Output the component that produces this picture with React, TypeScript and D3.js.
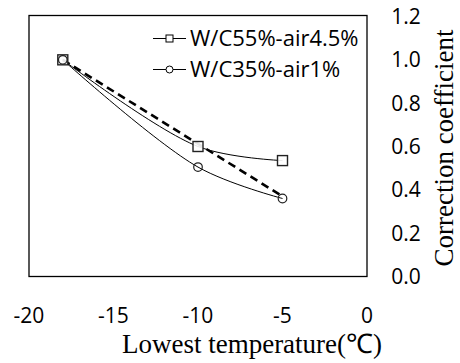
import React from "react";
import * as d3 from "d3";

const temps = [-18, -10, -5];
const seriesA = [1.0, 0.6, 0.535];
const seriesB = [1.0, 0.505, 0.36];
const trendX = [-18, -5];
const trendY = [1.0, 0.37];
const xTicks = [-20, -15, -10, -5, 0];
const yTicks = [0, 0.2, 0.4, 0.6, 0.8, 1.0, 1.2];
const legendLabels = ["W/C55%-air4.5%", "W/C35%-air1%"];

const W = 460, H = 363;
const L = 29, R = 367, T = 16.5, B = 276.5;

export default function App() {
  const x = d3.scaleLinear().domain([-20, 0]).range([L, R]);
  const y = d3.scaleLinear().domain([0, 1.2]).range([B, T]);
  const line = d3.line<[number, number]>()
    .x(d => x(d[0])).y(d => y(d[1]))
    .curve(d3.curveCatmullRom.alpha(0.5));
  const straight = d3.line<[number, number]>().x(d => x(d[0])).y(d => y(d[1]));
  const ptsA: [number, number][] = temps.map((t, i) => [t, seriesA[i]]);
  const ptsB: [number, number][] = temps.map((t, i) => [t, seriesB[i]]);
  const trend: [number, number][] = trendX.map((t, i) => [t, trendY[i]]);
  const sans = "'Open Sans', sans-serif";
  const serif = "'Liberation Serif', 'Times New Roman', serif";
  return (
    <svg width={W} height={H} style={{ position: "absolute", left: 0, top: 0 }}>
      <rect x={0} y={0} width={W} height={H} fill="#fff" />
      <rect x={L} y={T - 1} width={R - L} height={B - T + 1} fill="none" stroke="#000" strokeWidth={1.3} />
      <path d={straight(trend)!} fill="none" stroke="#000" strokeWidth={2.6} strokeDasharray="8,5" />
      <path d={line(ptsA)!} fill="none" stroke="#000" strokeWidth={1} />
      <path d={line(ptsB)!} fill="none" stroke="#000" strokeWidth={1} />
      {ptsA.map((p, i) => (
        <rect key={"a" + i} x={x(p[0]) - 5} y={y(p[1]) - 5} width={10} height={10} fill="#fff" fillOpacity={0.9} stroke="#222" strokeWidth={1.4} />
      ))}
      {ptsB.map((p, i) => (
        <circle key={"b" + i} cx={x(p[0])} cy={y(p[1])} r={4.3} fill="none" stroke="#222" strokeWidth={1.2} />
      ))}
      {xTicks.map(t => (
        <text key={"x" + t} x={x(t)} y={323} textAnchor="middle" fontFamily={sans} fontSize={21} fill="#000">{t}</text>
      ))}
      {yTicks.map(t => (
        <text key={"y" + t} x={406} y={y(t) + 7.5} textAnchor="middle" fontFamily={sans} fontSize={21} fill="#000">{t.toFixed(1)}</text>
      ))}
      <text x={252} y={353} textAnchor="middle" fontFamily={serif} fontSize={27} fill="#000">Lowest temperature(℃)</text>
      <text transform={`translate(453,148) rotate(-90)`} textAnchor="middle" fontFamily={serif} fontSize={27} fill="#000">Correction coefficient</text>
      {legendLabels.map((lab, i) => {
        const ly = 38.5 + i * 31;
        return (
          <g key={lab}>
            <line x1={153} x2={186} y1={ly} y2={ly} stroke="#000" strokeWidth={1} />
            {i === 0 ? (
              <rect x={166} y={ly - 3.5} width={7} height={7} fill="#fff" stroke="#000" strokeWidth={1} />
            ) : (
              <circle cx={169.5} cy={ly} r={3.5} fill="#fff" stroke="#000" strokeWidth={1} />
            )}
            <text x={190} y={ly + 7.5} fontFamily={sans} fontSize={22} fill="#000">{lab}</text>
          </g>
        );
      })}
    </svg>
  );
}
